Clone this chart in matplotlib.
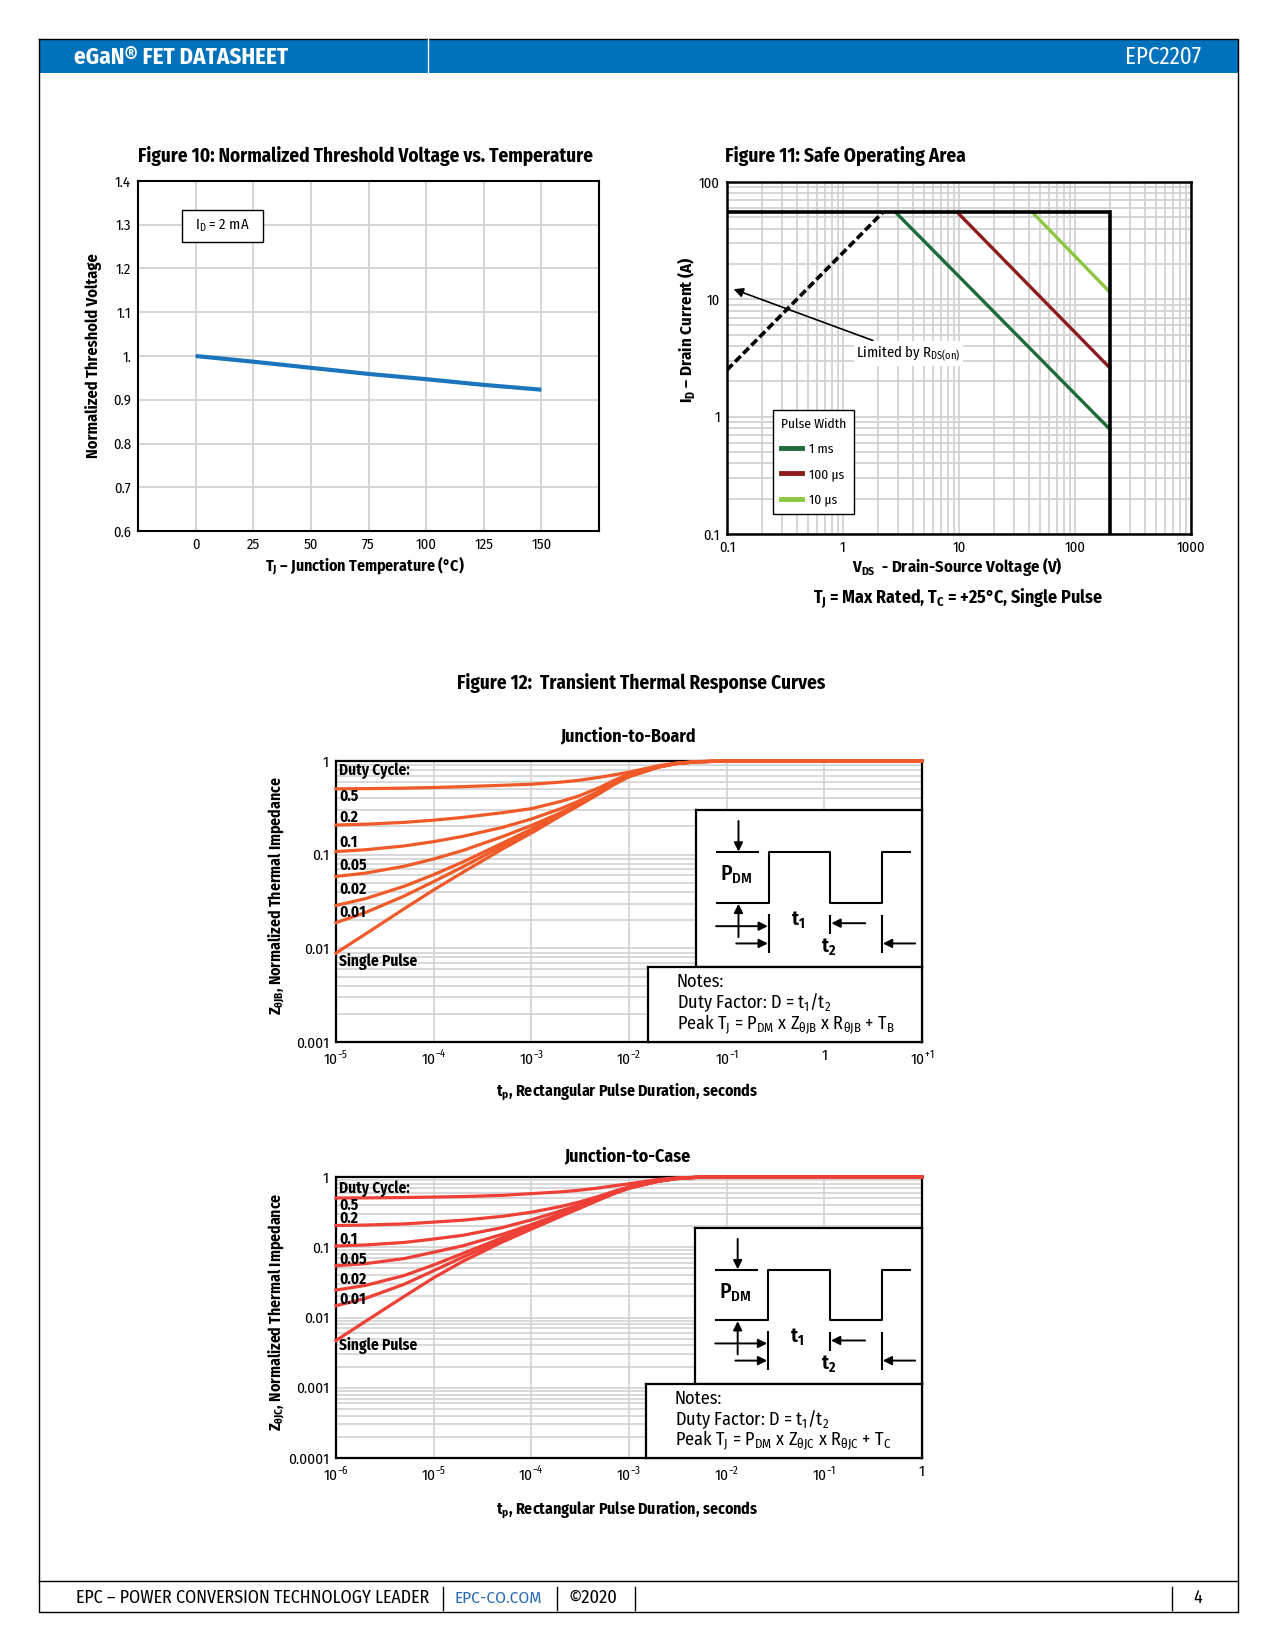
import matplotlib
matplotlib.use("Agg")
import matplotlib.pyplot as plt
import matplotlib.font_manager as fm
from matplotlib.lines import Line2D
from matplotlib.patches import Rectangle
from matplotlib.ticker import NullFormatter

W, H = 1275, 1650

# ---------------- data ----------------
# Figure 10: normalized threshold voltage vs temperature
temp_c = [0, 25, 50, 75, 100, 125, 150]
vth_norm = [1.0, 0.987, 0.973, 0.959, 0.947, 0.934, 0.923]
temp_ticks = [0, 25, 50, 75, 100, 125, 150]
vth_ticks = [0.6, 0.7, 0.8, 0.9, 1.0, 1.1, 1.2, 1.3, 1.4]
vth_ticklabels = ["0.6", "0.7", "0.8", "0.9", "1.", "1.1", "1.2", "1.3", "1.4"]

# Figure 11: safe operating area
vds_ticks = [0.1, 1, 10, 100, 1000]
vds_ticklabels = ["0.1", "1", "10", "100", "1000"]
id_ticks = [0.1, 1, 10, 100]
id_ticklabels = ["0.1", "1", "10", "100"]
limit_v = [0.1, 200, 200]
limit_i = [55, 55, 0.1]
rds_v = [0.1, 2.2]
rds_i = [2.5, 55]
v_1ms = [2.85, 200]
i_1ms = [55, 0.78]
v_100us = [9.7, 200]
i_100us = [55, 2.6]
v_10us = [43, 200]
i_10us = [55, 11.5]
pulse_labels = ["1 ms", "100 \u00b5s", "10 \u00b5s"]
pulse_colors = ["#1e6b3a", "#8e1b1e", "#8dc63f"]

# Figure 12: transient thermal response, junction-to-board
tp_jb = [1e-5, 2e-5, 5e-5, 1e-4, 2e-4, 5e-4, 1e-3, 2e-3, 3e-3, 5e-3, 7e-3,
         1e-2, 2e-2, 3e-2, 5e-2, 1e-1, 1, 10]
zjb_single = [.0089, .0142, .0265, .042, .065, .114, .17, .26, .33, .45, .56,
              .68, .86, .935, .98, 1, 1, 1]
zjb_d01 = [.0188, .0241, .0362, .0516, .0744, .123, .178, .267, .337, .456, .564,
           .683, .861, .936, .98, 1, 1, 1]
zjb_d02 = [.0287, .0339, .046, .0612, .0837, .132, .187, .275, .343, .461, .569,
           .686, .863, .936, .98, 1, 1, 1]
zjb_d05 = [.0585, .0635, .0752, .0899, .111, .155, .205, .28, .345, .468, .578,
           .692, .866, .938, .981, 1, 1, 1]
zjb_d10 = [.108, .1128, .1239, .1378, .157, .195, .24, .31, .37, .48, .59,
           .70, .872, .941, .982, 1, 1, 1]
zjb_d20 = [.2071, .2114, .2212, .2336, .25, .28, .31, .37, .42, .52, .62,
           .725, .88, .945, .984, 1, 1, 1]
zjb_d50 = [.5045, .5071, .5133, .521, .5325, .55, .565, .595, .62, .67, .71,
           .76, .89, .95, .987, 1, 1, 1]
jb_xticks = [1e-5, 1e-4, 1e-3, 1e-2, 1e-1, 1, 10]
jb_xticklabels = ["10$^{\\mathregular{-5}}$", "10$^{\\mathregular{-4}}$", "10$^{\\mathregular{-3}}$",
                  "10$^{\\mathregular{-2}}$", "10$^{\\mathregular{-1}}$", "1", "10$^{\\mathregular{+1}}$"]
jb_yticks = [0.001, 0.01, 0.1, 1]
jb_yticklabels = ["0.001", "0.01", "0.1", "1"]

# Figure 12: transient thermal response, junction-to-case
tp_jc = [1e-6, 2e-6, 5e-6, 1e-5, 2e-5, 5e-5, 1e-4, 2e-4, 3e-4, 5e-4, 7e-4,
         1e-3, 2e-3, 3e-3, 5e-3, 1e-2, 1e-1, 1]
zjc_single = [.0047, .0088, .02, .0368, .0632, .118, .181, .275, .35, .476, .579,
              .692, .87, .945, .99, 1, 1, 1]
zjc_d01 = [.0147, .0187, .0298, .0464, .0726, .127, .189, .282, .357, .481, .583,
           .695, .871, .946, .99, 1, 1, 1]
zjc_d02 = [.0246, .0286, .0396, .0561, .0819, .136, .197, .29, .363, .487, .587,
           .698, .873, .946, .99, 1, 1, 1]
zjc_d05 = [.0545, .0584, .069, .085, .105, .152, .21, .30, .37, .49, .59,
           .70, .876, .948, .99, 1, 1, 1]
zjc_d10 = [.1042, .1079, .117, .131, .148, .19, .245, .33, .395, .505, .60,
           .71, .88, .95, .99, 1, 1, 1]
zjc_d20 = [.2038, .207, .215, .228, .243, .275, .315, .38, .435, .535, .625,
           .725, .89, .955, .99, 1, 1, 1]
zjc_d50 = [.5024, .5044, .51, .518, .527, .548, .58, .615, .645, .70, .75,
           .80, .925, .97, .995, 1, 1, 1]
jc_xticks = [1e-6, 1e-5, 1e-4, 1e-3, 1e-2, 1e-1, 1]
jc_xticklabels = ["10$^{\\mathregular{-6}}$", "10$^{\\mathregular{-5}}$", "10$^{\\mathregular{-4}}$",
                  "10$^{\\mathregular{-3}}$", "10$^{\\mathregular{-2}}$", "10$^{\\mathregular{-1}}$", "1"]
jc_yticks = [0.0001, 0.001, 0.01, 0.1, 1]
jc_yticklabels = ["0.0001", "0.001", "0.01", "0.1", "1"]

duty_labels = ["Duty Cycle:", "0.5", "0.2", "0.1", "0.05", "0.02", "0.01", "Single Pulse"]

# ---------------- fonts ----------------
# the datasheet uses a condensed sans; take the first one that is installed
names = {f.name for f in fm.fontManager.ttflist}
FONT, SC = "DejaVu Sans", 0.75
for n, s in [("Fira Sans Condensed", 0.92), ("Roboto Condensed", 0.97),
             ("PT Sans Narrow", 1.05), ("Archivo Narrow", 0.96),
             ("Liberation Sans Narrow", 1.0), ("Asap Condensed", 0.95)]:
    if n in names:
        FONT, SC = n, s
        break
plt.rcParams["font.family"] = [FONT, "DejaVu Sans"]
plt.rcParams["mathtext.fontset"] = "custom"
plt.rcParams["mathtext.rm"] = FONT
plt.rcParams["mathtext.bf"] = FONT + ":bold"


def fs(x):
    return x * SC


def rect(x0, y0, x1, y1):
    return [x0 / W, 1 - y1 / H, (x1 - x0) / W, (y1 - y0) / H]


BLUE = "#0071bb"
GRID = "#d2d2d2"

fig = plt.figure(figsize=(W / 100, H / 100), dpi=100)

# page frame, header, footer (pixel coordinates)
page = fig.add_axes([0, 0, 1, 1])
page.set_xlim(0, W)
page.set_ylim(H, 0)
page.axis("off")
page.add_patch(Rectangle((39, 39), 1199, 34, color=BLUE, lw=0))
page.plot([39, 39, 1238, 1238, 39], [39, 1612, 1612, 39, 39], color="black", lw=1)
page.plot([428, 428], [39, 73], color="white", lw=1)
page.text(74, 57, "eGaN\u00ae FET DATASHEET", color="white", weight="bold",
          fontsize=fs(18), ha="left", va="center")
page.text(1201, 57, "EPC2207", color="white", fontsize=fs(18), ha="right", va="center")
page.plot([39, 1238], [1581, 1581], color="black", lw=1)
page.text(76, 1598, "EPC \u2013 POWER CONVERSION TECHNOLOGY LEADER", fontsize=fs(14),
          ha="left", va="center")
page.text(455, 1598, "EPC-CO.COM", fontsize=fs(13.5), color="#2b6cb5", ha="left", va="center")
page.text(569, 1598, "\u00a92020", fontsize=fs(14.5), ha="left", va="center")
page.text(1193, 1598, "4", fontsize=fs(14), ha="left", va="center")
for bx in [443, 557, 635, 1172]:
    page.plot([bx, bx], [1587, 1610], color="black", lw=1)

# ---------------- Figure 10 ----------------
page.text(365, 156, "Figure 10: Normalized Threshold Voltage vs. Temperature",
          weight="bold", fontsize=fs(15), ha="center", va="center")
ax1 = fig.add_axes(rect(138, 181, 599, 531))
ax1.plot(temp_c, vth_norm, color="#1b75bc", lw=3, solid_capstyle="butt", zorder=3)
ax1.set_xlim(-25, 175)
ax1.set_ylim(0.6, 1.4)
ax1.set_xticks(temp_ticks)
ax1.set_yticks(vth_ticks)
ax1.set_yticklabels(vth_ticklabels)
ax1.grid(color=GRID, lw=1.3)
ax1.set_axisbelow(True)
ax1.tick_params(length=0, labelsize=fs(11.5), pad=5)
for s in ax1.spines.values():
    s.set_linewidth(1.5)
ax1.add_patch(Rectangle((0.0954, 0.826), 0.1756, 0.091, transform=ax1.transAxes,
                        fc="white", ec="black", lw=1, zorder=4))
ax1.text(0.183, 0.871, "I$_\\mathregular{D}$ = 2 mA", transform=ax1.transAxes,
         fontsize=fs(11.5), ha="center", va="center", zorder=5)
page.text(93, 356, "Normalized Threshold Voltage", rotation=90, weight="bold",
          fontsize=fs(12.8), ha="center", va="center")
page.text(365, 565, "T$_\\mathregular{J}$ \u2013 Junction Temperature (\u00b0C)", weight="bold",
          fontsize=fs(12.4), ha="center", va="center")

# ---------------- Figure 11 ----------------
page.text(725, 156, "Figure 11: Safe Operating Area", weight="bold", fontsize=fs(15.2),
          ha="left", va="center")
ax2 = fig.add_axes(rect(727, 182, 1191, 534))
ax2.set_xscale("log")
ax2.set_yscale("log")
ax2.set_xlim(0.1, 1000)
ax2.set_ylim(0.1, 100)
ax2.set_xticks(vds_ticks)
ax2.set_xticklabels(vds_ticklabels)
ax2.set_yticks(id_ticks)
ax2.set_yticklabels(id_ticklabels)
ax2.xaxis.set_minor_formatter(NullFormatter())
ax2.yaxis.set_minor_formatter(NullFormatter())
ax2.grid(which="both", color=GRID, lw=1.3)
ax2.set_axisbelow(True)
ax2.tick_params(which="both", length=0, labelsize=fs(11.5), pad=5)
for s in ax2.spines.values():
    s.set_linewidth(1.8)
ax2.plot(v_1ms, i_1ms, color=pulse_colors[0], lw=2.4, zorder=3)
ax2.plot(v_100us, i_100us, color=pulse_colors[1], lw=2.4, zorder=3)
ax2.plot(v_10us, i_10us, color=pulse_colors[2], lw=2.4, zorder=3)
ax2.plot(rds_v, rds_i, color="black", lw=2.6, dashes=(2.2, 1.0), zorder=3)
ax2.plot(limit_v, limit_i, color="black", lw=2.6, zorder=4, solid_joinstyle="miter")
ax2.annotate("Limited by R$_\\mathregular{DS(on)}$", xy=(0.114, 12.2), xytext=(1.3, 3.45),
             fontsize=fs(11.5), ha="left", va="center",
             bbox=dict(boxstyle="square,pad=0.15", fc="white", ec="none"),
             arrowprops=dict(arrowstyle="-|>", color="black", lw=1.2, mutation_scale=14,
                             shrinkA=2, shrinkB=0))
handles = [Line2D([], [], color=c, lw=3.5) for c in pulse_colors]
leg = ax2.legend(handles, pulse_labels, title="Pulse Width", loc="upper left",
                 bbox_to_anchor=(0.084, 0.372), fontsize=fs(10.5), title_fontsize=fs(10.5),
                 frameon=True, fancybox=False, edgecolor="black", framealpha=1,
                 handlelength=1.6, handletextpad=0.5, labelspacing=0.95, borderpad=0.6,
                 alignment="left")
leg.get_frame().set_linewidth(1)
page.text(686, 330, "I$_\\mathregular{D}$ \u2013 Drain Current (A)", rotation=90, weight="bold",
          fontsize=fs(13.2), ha="center", va="center")
page.text(957, 567, "V$_\\mathregular{DS}$  - Drain-Source Voltage (V)", weight="bold",
          fontsize=fs(13), ha="center", va="center")
page.text(958, 598, "T$_\\mathregular{J}$ = Max Rated, T$_\\mathregular{C}$ = +25\u00b0C, Single Pulse",
          weight="bold", fontsize=fs(14), ha="center", va="center")

# ---------------- Figure 12 ----------------
page.text(641, 683, "Figure 12:  Transient Thermal Response Curves", weight="bold",
          fontsize=fs(15), ha="center", va="center")


def pulse_diagram(box):
    box.set_xlim(0, 1)
    box.set_ylim(0, 1)
    box.set_xticks([])
    box.set_yticks([])
    for s in box.spines.values():
        s.set_linewidth(1.6)
    k = dict(color="black", lw=1.5, solid_capstyle="butt")
    box.plot([0.089, 0.277], [0.730, 0.730], **k)
    box.plot([0.089, 0.323, 0.323, 0.594, 0.594, 0.822, 0.822, 0.950],
             [0.408, 0.408, 0.730, 0.730, 0.408, 0.408, 0.730, 0.730], **k)
    box.plot([0.323, 0.323], [0.088, 0.339], **k)
    box.plot([0.594, 0.594], [0.210, 0.333], **k)
    box.plot([0.822, 0.822], [0.088, 0.333], **k)
    arr = dict(arrowstyle="-|>", color="black", lw=1.4, mutation_scale=13, shrinkA=0, shrinkB=0)
    box.annotate("", xy=(0.188, 0.735), xytext=(0.188, 0.93), arrowprops=arr)
    box.annotate("", xy=(0.188, 0.403), xytext=(0.188, 0.19), arrowprops=arr)
    box.annotate("", xy=(0.318, 0.260), xytext=(0.089, 0.260), arrowprops=arr)
    box.annotate("", xy=(0.318, 0.150), xytext=(0.178, 0.150), arrowprops=arr)
    box.annotate("", xy=(0.599, 0.279), xytext=(0.749, 0.279), arrowprops=arr)
    box.annotate("", xy=(0.827, 0.150), xytext=(0.970, 0.150), arrowprops=arr)
    box.text(0.105, 0.586, "P$_\\mathregular{DM}$", fontsize=fs(17), weight="medium",
             ha="left", va="center")
    box.text(0.42, 0.296, "t$_\\mathregular{1}$", fontsize=fs(15.5), weight="bold",
             ha="left", va="center")
    box.text(0.555, 0.124, "t$_\\mathregular{2}$", fontsize=fs(15.5), weight="bold",
             ha="left", va="center")


def notes_box(box, sub):
    box.set_xlim(0, 1)
    box.set_ylim(0, 1)
    box.set_xticks([])
    box.set_yticks([])
    for s in box.spines.values():
        s.set_linewidth(1.6)
    lines = ["Notes:",
             "Duty Factor: D = t$_\\mathregular{1}$/t$_\\mathregular{2}$",
             "Peak T$_\\mathregular{J}$ = P$_\\mathregular{DM}$ x Z$_\\mathregular{\u03b8J%s}$ x "
             "R$_\\mathregular{\u03b8J%s}$ + T$_\\mathregular{%s}$" % (sub, sub, sub)]
    for txt, yy in zip(lines, [0.80, 0.52, 0.24]):
        box.text(0.105, yy, txt, fontsize=fs(14.3), ha="left", va="center")


def thermal_panel(box_px, tp, curves, xticks, xticklabels, yticks, yticklabels,
                  xlim, ylim, color, label_y, wave_px, notes_px, sub):
    ax = fig.add_axes(rect(*box_px))
    ax.set_xscale("log")
    ax.set_yscale("log")
    ax.set_xlim(*xlim)
    ax.set_ylim(*ylim)
    ax.set_xticks(xticks)
    ax.set_xticklabels(xticklabels)
    ax.set_yticks(yticks)
    ax.set_yticklabels(yticklabels)
    ax.xaxis.set_minor_locator(plt.NullLocator())
    ax.yaxis.set_minor_formatter(NullFormatter())
    ax.grid(which="major", color=GRID, lw=1.2)
    ax.grid(which="minor", axis="y", color=GRID, lw=1.2)
    ax.set_axisbelow(True)
    ax.tick_params(which="both", length=0, labelsize=fs(12), pad=5)
    for s in ax.spines.values():
        s.set_linewidth(1.6)
    for z in curves:
        ax.plot(tp, z, color=color, lw=2.3, zorder=3, clip_on=False)
    for txt, yy in zip(duty_labels, label_y):
        ax.text(0.005, yy, txt, transform=ax.transAxes, weight="bold", fontsize=fs(12),
                ha="left", va="center", zorder=4)
    wave = fig.add_axes(rect(*wave_px))
    pulse_diagram(wave)
    notes = fig.add_axes(rect(*notes_px))
    notes_box(notes, sub)
    return ax


thermal_panel((336, 761, 922, 1042), tp_jb,
              [zjb_d50, zjb_d20, zjb_d10, zjb_d05, zjb_d02, zjb_d01, zjb_single],
              jb_xticks, jb_xticklabels, jb_yticks, jb_yticklabels,
              (1e-5, 10), (0.001, 1), "#f05a28",
              [0.966, 0.873, 0.801, 0.712, 0.629, 0.543, 0.461, 0.288],
              (696, 810, 922, 967), (648, 967, 922, 1042), "B")
page.text(628, 736, "Junction-to-Board", weight="bold", fontsize=fs(14), ha="center", va="center")
page.text(627, 1092, "t$_\\mathregular{p}$, Rectangular Pulse Duration, seconds", weight="bold",
          fontsize=fs(12.4), ha="center", va="center")
page.text(276, 896, "Z$_\\mathregular{\u03b8JB}$, Normalized Thermal Impedance", rotation=90,
          weight="bold", fontsize=fs(12.3), ha="center", va="center")

thermal_panel((336, 1177, 922, 1458), tp_jc,
              [zjc_d50, zjc_d20, zjc_d10, zjc_d05, zjc_d02, zjc_d01, zjc_single],
              jc_xticks, jc_xticklabels, jc_yticks, jc_yticklabels,
              (1e-6, 1), (0.0001, 1), "#ee4036",
              [0.959, 0.899, 0.854, 0.779, 0.708, 0.637, 0.566, 0.401],
              (695, 1228, 922, 1384), (646, 1384, 922, 1458), "C")
page.text(627, 1156, "Junction-to-Case", weight="bold", fontsize=fs(14), ha="center", va="center")
page.text(627, 1510, "t$_\\mathregular{p}$, Rectangular Pulse Duration, seconds", weight="bold",
          fontsize=fs(12.4), ha="center", va="center")
page.text(276, 1312, "Z$_\\mathregular{\u03b8JC}$, Normalized Thermal Impedance", rotation=90,
          weight="bold", fontsize=fs(12.3), ha="center", va="center")

fig.savefig("out.png", dpi=100, facecolor="white")
